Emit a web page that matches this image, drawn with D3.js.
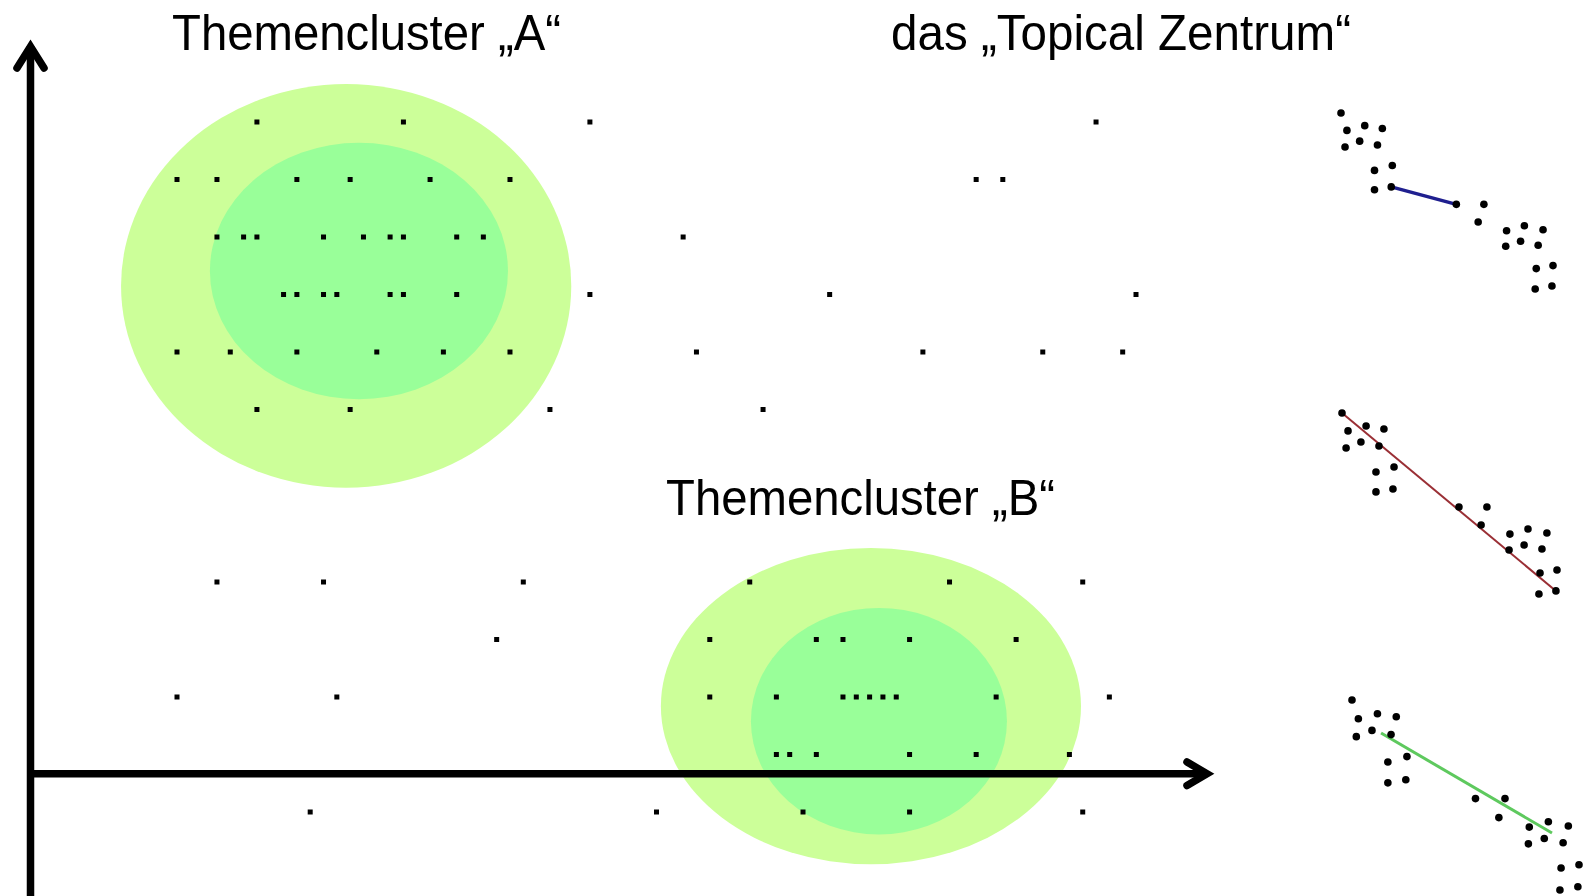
<!DOCTYPE html>
<html>
<head>
<meta charset="utf-8">
<script src="https://cdn.jsdelivr.net/npm/d3@7"></script>
<style>
    body { margin: 0; background: #fff; }
    svg { display: block; }
    .label { font-family: "Liberation Sans", Arial, sans-serif; font-size: 50px; fill: #000; }
</style>
</head>
<body>
<svg id="chart"></svg>
<script>
"use strict";

// grid rows (top to bottom) and the dot columns found in each row
const rows = [0, 1, 2, 3, 4, 5, 8, 9, 10, 11, 12];
const rowColumns = [
    [6, 17, 31, 69],
    [0, 3, 9, 13, 19, 25, 60, 62],
    [3, 5, 6, 11, 14, 16, 17, 21, 23, 38],
    [8, 9, 11, 12, 16, 17, 21, 31, 49, 72],
    [0, 4, 9, 15, 20, 25, 39, 56, 65, 71],
    [6, 13, 28, 44],
    [3, 11, 26, 43, 58, 68],
    [24, 40, 48, 50, 55, 63],
    [0, 12, 40, 45, 50, 51, 52, 53, 54, 61.5, 70],
    [45, 46, 48, 55, 60, 67],
    [10, 36, 47, 55, 68]
];

// cluster regions: [centre column, centre row, column radius, row radius]
const clusterNames = ["A", "B"];
const clusterOuter = [[12.7, 2.85, 16.9, 3.51], [52.1, 10.16, 15.77, 2.75]];
const clusterInner = [[13.66, 2.59, 11.19, 2.23], [52.7, 10.42, 9.61, 1.97]];

// the small linkage sketches on the right (same point cloud, 0..100 units)
const sketchX = [0, 2.8, 11.2, 19.5, 1.9, 8.8, 17.2, 15.8, 24.2, 15.8, 23.7,
    54.4, 67.4, 64.7, 78.1, 86.5, 95.3, 77.7, 84.7, 93.0, 92.1, 100, 91.6, 99.5];
const sketchY = [0, 9.9, 7.2, 8.8, 19.3, 16.0, 18.2, 32.6, 29.8, 43.6, 42.0,
    51.9, 51.9, 61.9, 66.9, 64.1, 66.3, 75.7, 72.9, 75.1, 88.4, 86.7, 100, 98.3];
const linkSingle = [10, 11];
const linkComplete = [0, 23];
const linkCentroid = [[12.8, 17.4], [88.1, 70.0]];

const width = 1583;
const height = 896;

const svg = d3.select("#chart").attr("width", width).attr("height", height);

const xScale = d3.scaleLinear().domain([0, 72]).range([177, 1136]);
const yScale = d3.scaleLinear().domain([0, 12]).range([122, 812]);
const colUnit = xScale(1) - xScale(0);
const rowUnit = yScale(1) - yScale(0);

// cluster blobs
const blobs = svg.append("g");
clusterOuter.forEach((c, i) => {
    blobs.append("ellipse")
        .attr("cx", xScale(c[0])).attr("cy", yScale(c[1]))
        .attr("rx", c[2] * colUnit).attr("ry", c[3] * rowUnit)
        .attr("fill", "#ccff99");
    const n = clusterInner[i];
    blobs.append("ellipse")
        .attr("cx", xScale(n[0])).attr("cy", yScale(n[1]))
        .attr("rx", n[2] * colUnit).attr("ry", n[3] * rowUnit)
        .attr("fill", "#99ff99");
});

// axes with open arrow heads
const axisX = 30.5, axisY = 773.8;
const axes = svg.append("g")
    .attr("stroke", "#000")
    .attr("stroke-width", 7.5)
    .attr("fill", "none");

axes.append("line").attr("x1", axisX).attr("y1", height).attr("x2", axisX).attr("y2", 46);
axes.append("line").attr("x1", axisX).attr("y1", axisY).attr("x2", 1207).attr("y2", axisY);
axes.append("path")
    .attr("d", `M17,68 L${axisX},46.5 L44,68`)
    .attr("stroke-linecap", "round").attr("stroke-linejoin", "miter");
axes.append("path")
    .attr("d", `M1187,762 L1207,${axisY} L1187,785.6`)
    .attr("stroke-linecap", "round").attr("stroke-linejoin", "miter");

// documents as dots
const dots = [];
rows.forEach((r, i) => rowColumns[i].forEach((c) => dots.push({ col: c, row: r })));

svg.append("g")
    .selectAll("rect")
    .data(dots)
    .enter()
    .append("rect")
    .attr("x", (d) => xScale(d.col) - 2.5)
    .attr("y", (d) => yScale(d.row) - 2.5)
    .attr("width", 5)
    .attr("height", 5)
    .attr("fill", "#000");

// labels
const addLabel = (x, y, len, txt) => svg.append("text")
    .attr("class", "label")
    .attr("x", x).attr("y", y)
    .attr("textLength", len)
    .attr("lengthAdjust", "spacingAndGlyphs")
    .text(txt);

addLabel(172, 50, 389, `Themencluster „${clusterNames[0]}“`);
addLabel(666, 515, 389, `Themencluster „${clusterNames[1]}“`);
addLabel(891, 50, 460, "das „Topical Zentrum“");

// linkage sketches
const sketches = [
    { x: [1341, 1553], y: [113, 289], color: "#1f1f8f", w: 3.5, link: "single" },
    { x: [1342, 1557], y: [413, 594], color: "#9a2f35", w: 2, link: "complete" },
    { x: [1352, 1579], y: [700, 890], color: "#5ec95e", w: 3, link: "centroid" }
];

sketches.forEach((s) => {
    const sx = d3.scaleLinear().domain([0, 100]).range(s.x);
    const sy = d3.scaleLinear().domain([0, 100]).range(s.y);
    const g = svg.append("g");

    let p1, p2;
    if (s.link === "single") {
        p1 = [sketchX[linkSingle[0]], sketchY[linkSingle[0]]];
        p2 = [sketchX[linkSingle[1]], sketchY[linkSingle[1]]];
    } else if (s.link === "complete") {
        p1 = [sketchX[linkComplete[0]], sketchY[linkComplete[0]]];
        p2 = [sketchX[linkComplete[1]], sketchY[linkComplete[1]]];
    } else {
        p1 = linkCentroid[0];
        p2 = linkCentroid[1];
    }

    g.append("line")
        .attr("x1", sx(p1[0])).attr("y1", sy(p1[1]))
        .attr("x2", sx(p2[0])).attr("y2", sy(p2[1]))
        .attr("stroke", s.color)
        .attr("stroke-width", s.w);

    g.selectAll("circle")
        .data(sketchX)
        .enter()
        .append("circle")
        .attr("cx", (d) => sx(d))
        .attr("cy", (d, i) => sy(sketchY[i]))
        .attr("r", 3.8)
        .attr("fill", "#000");
});
</script>
</body>
</html>
